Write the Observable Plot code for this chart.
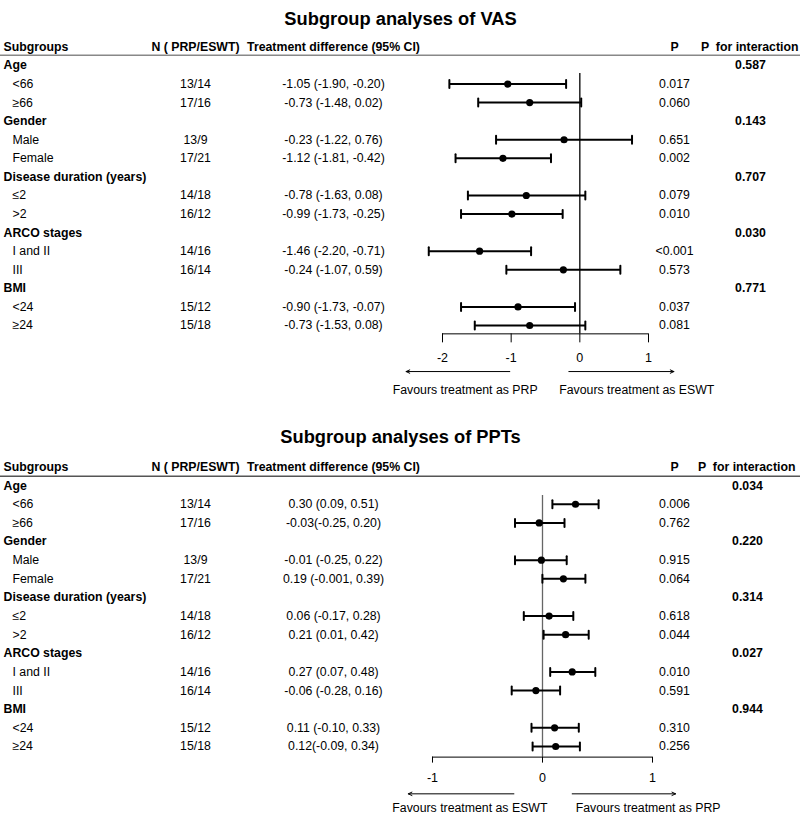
<!DOCTYPE html>
<html>
<head>
<meta charset="utf-8">
<script src="https://cdn.jsdelivr.net/npm/d3@7"></script>
<script src="https://cdn.jsdelivr.net/npm/@observablehq/plot@0.6"></script>
<style>
  html, body { margin: 0; padding: 0; background: #fff; }
  #chart { width: 800px; }
  #chart svg { display: block; font-family: "Liberation Sans", Arial, sans-serif; color: #000; }
</style>
</head>
<body>
<div id="chart"></div>
<script>
// ---------- data ----------
const groupNames = ["Age", "Gender", "Disease duration (years)", "ARCO stages", "BMI"];
const subNames = [["<66", "≥66"], ["Male", "Female"], ["≤2", ">2"], ["I and II", "III"], ["<24", "≥24"]];
const nCounts = ["13/14", "17/16", "13/9", "17/21", "14/18", "16/12", "14/16", "16/14", "15/12", "15/18"];

const vasEst = [-1.05, -0.73, -0.23, -1.12, -0.78, -0.99, -1.46, -0.24, -0.90, -0.73];
const vasLo  = [-1.90, -1.48, -1.22, -1.81, -1.63, -1.73, -2.20, -1.07, -1.73, -1.53];
const vasHi  = [-0.20,  0.02,  0.76, -0.42,  0.08, -0.25, -0.71,  0.59, -0.07,  0.08];
const vasText = ["-1.05 (-1.90, -0.20)", "-0.73 (-1.48, 0.02)", "-0.23 (-1.22, 0.76)", "-1.12 (-1.81, -0.42)",
  "-0.78 (-1.63, 0.08)", "-0.99 (-1.73, -0.25)", "-1.46 (-2.20, -0.71)", "-0.24 (-1.07, 0.59)",
  "-0.90 (-1.73, -0.07)", "-0.73 (-1.53, 0.08)"];
const vasP = ["0.017", "0.060", "0.651", "0.002", "0.079", "0.010", "<0.001", "0.573", "0.037", "0.081"];
const vasPInt = ["0.587", "0.143", "0.707", "0.030", "0.771"];
const vasTicks = [-2, -1, 0, 1];

const pptEst = [0.30, -0.03, -0.01, 0.19, 0.06, 0.21, 0.27, -0.06, 0.11, 0.12];
const pptLo  = [0.09, -0.25, -0.25, -0.001, -0.17, 0.01, 0.07, -0.28, -0.10, -0.09];
const pptHi  = [0.51, 0.20, 0.22, 0.39, 0.28, 0.42, 0.48, 0.16, 0.33, 0.34];
const pptText = ["0.30 (0.09, 0.51)", "-0.03(-0.25, 0.20)", "-0.01 (-0.25, 0.22)", "0.19 (-0.001, 0.39)",
  "0.06 (-0.17, 0.28)", "0.21 (0.01, 0.42)", "0.27 (0.07, 0.48)", "-0.06 (-0.28, 0.16)",
  "0.11 (-0.10, 0.33)", "0.12(-0.09, 0.34)"];
const pptP = ["0.006", "0.762", "0.915", "0.064", "0.618", "0.044", "0.010", "0.591", "0.310", "0.256"];
const pptPInt = ["0.034", "0.220", "0.314", "0.027", "0.944"];
const pptTicks = [-1, 0, 1];

const headers = ["Subgroups", "N ( PRP/ESWT)", "Treatment difference (95% CI)", "P", "P  for interaction"];

// ---------- build tables ----------
function buildRows(est, lo, hi, txt, p, pInt) {
  const groups = [], subs = [];
  let row = 1, k = 0;
  groupNames.forEach((g, i) => {
    groups.push({row, name: g, pInt: pInt[i]});
    row++;
    subNames[i].forEach(s => {
      subs.push({row, name: s, n: nCounts[k], est: est[k], lo: lo[k], hi: hi[k], txt: txt[k], p: p[k]});
      row++; k++;
    });
  });
  return {groups, subs};
}

const capShape = {draw(ctx, l) { ctx.moveTo(0, 0); ctx.lineTo(0, -l); }};
const FONT = 12.3;

function panel(cfg) {
  const {groups, subs} = buildRows(cfg.est, cfg.lo, cfg.hi, cfg.txt, cfg.p, cfg.pInt);
  const step = (cfg.yRange[1] - cfg.yRange[0]) / 15;
  const axisPx = cfg.yRange[0] + cfg.axisRow * step;
  const left = (dx, anchor = "middle") => ({frameAnchor: "left", dx, textAnchor: anchor});
  return Plot.plot({
    width: 800,
    height: cfg.height,
    marginLeft: 0, marginRight: 0, marginTop: 0,
    marginBottom: cfg.height - axisPx,
    style: {fontFamily: '"Liberation Sans", Arial, sans-serif', fontSize: FONT + "px", color: "#000", overflow: "visible"},
    x: {domain: cfg.xDomain, range: cfg.xRange},
    y: {domain: [0, 15], range: cfg.yRange, axis: null},
    marks: [
      // title
      Plot.text([cfg.title], {frameAnchor: "top", dy: cfg.titleY, fontSize: 18.3, fontWeight: "bold", lineAnchor: "middle"}),
      // header row
      Plot.text([headers[0]], {y: 0, ...left(3, "start"), fontWeight: "bold"}),
      Plot.text([headers[1]], {y: 0, ...left(195), fontWeight: "bold"}),
      Plot.text([headers[2]], {y: 0, ...left(333), fontWeight: "bold"}),
      Plot.text([headers[3]], {y: 0, ...left(674), fontWeight: "bold"}),
      Plot.text([headers[4]], {y: 0, ...left(cfg.pIntHeaderX, "end"), fontWeight: "bold"}),
      Plot.ruleY([cfg.headerLineRow], {stroke: cfg.headerLineColor, strokeWidth: 1.4}),
      // group rows
      Plot.text(groups, {y: "row", text: "name", ...left(3, "start"), fontWeight: "bold"}),
      Plot.text(groups, {y: "row", text: "pInt", ...left(cfg.pIntX), fontWeight: "bold"}),
      // subgroup rows
      Plot.text(subs, {y: "row", text: "name", ...left(12, "start")}),
      Plot.text(subs, {y: "row", text: "n", ...left(195)}),
      Plot.text(subs, {y: "row", text: "txt", ...left(333)}),
      Plot.text(subs, {y: "row", text: "p", ...left(674)}),
      // reference line at zero
      Plot.ruleX([0], {y1: cfg.refTop, y2: cfg.axisRow, stroke: cfg.refColor, strokeWidth: 1.3}),
      // CIs
      Plot.link(subs, {x1: "lo", x2: "hi", y1: "row", y2: "row", stroke: "#000", strokeWidth: 2}),
      Plot.vector(subs, {x: "lo", y: "row", length: 8, rotate: 0, anchor: "middle", shape: capShape, stroke: "#000", strokeWidth: 2}),
      Plot.vector(subs, {x: "hi", y: "row", length: 8, rotate: 0, anchor: "middle", shape: capShape, stroke: "#000", strokeWidth: 2}),
      Plot.dot(subs, {x: "est", y: "row", r: 3.6, fill: "#000", stroke: "none"}),
      // axis
      Plot.ruleY([cfg.axisRow], {x1: d3.min(cfg.ticks), x2: d3.max(cfg.ticks), stroke: "#000", strokeWidth: 1}),
      Plot.axisX({ticks: cfg.ticks, tickFormat: d => String(d), tickSize: cfg.tickSize, tickPadding: 10.5,
        fontSize: 12.5, stroke: "#000", strokeWidth: 1, label: null}),
      // direction arrows and labels
      Plot.arrow(cfg.arrows, {x1: "x1", x2: "x2", y1: () => cfg.arrowRow, y2: () => cfg.arrowRow,
        stroke: "#000", strokeWidth: 1, headLength: 6, headAngle: 50}),
      Plot.text(cfg.favLabels, {x: "x", y: () => cfg.favRow, text: "t", fontSize: FONT})
    ]
  });
}

const p1 = panel({
  title: "Subgroup analyses of VAS", titleY: 19, height: 410,
  est: vasEst, lo: vasLo, hi: vasHi, txt: vasText, p: vasP, pInt: vasPInt, ticks: vasTicks,
  xDomain: [-2, 1], xRange: [442, 648],
  yRange: [46.4, 325], axisRow: 15.45, refTop: 1.43, tickSize: 9,
  headerLineRow: 0.45, headerLineColor: "#888", refColor: "#000",
  pIntX: 750, pIntHeaderX: 798,
  arrowRow: 17.48, favRow: 18.45,
  arrows: [{x1: -1.02, x2: -2.53}, {x1: -0.16, x2: 1.37}],
  favLabels: [{x: -1.67, t: "Favours treatment as PRP"}, {x: 0.83, t: "Favours treatment as ESWT"}]
});

const p2 = panel({
  title: "Subgroup analyses of PPTs", titleY: 27, height: 406,
  est: pptEst, lo: pptLo, hi: pptHi, txt: pptText, p: pptP, pInt: pptPInt, ticks: pptTicks,
  xDomain: [-1, 1], xRange: [432, 652],
  yRange: [56.5, 336], axisRow: 15.57, refTop: 1.53, tickSize: 6,
  headerLineRow: 0.5, headerLineColor: "#555", refColor: "#666",
  pIntX: 747, pIntHeaderX: 795,
  arrowRow: 17.54, favRow: 18.33,
  arrows: [{x1: -0.26, x2: -1.22}, {x1: 0.27, x2: 1.21}],
  favLabels: [{x: -0.66, t: "Favours treatment as ESWT"}, {x: 0.96, t: "Favours treatment as PRP"}]
});

document.getElementById("chart").append(p1, p2);
</script>
</body>
</html>
